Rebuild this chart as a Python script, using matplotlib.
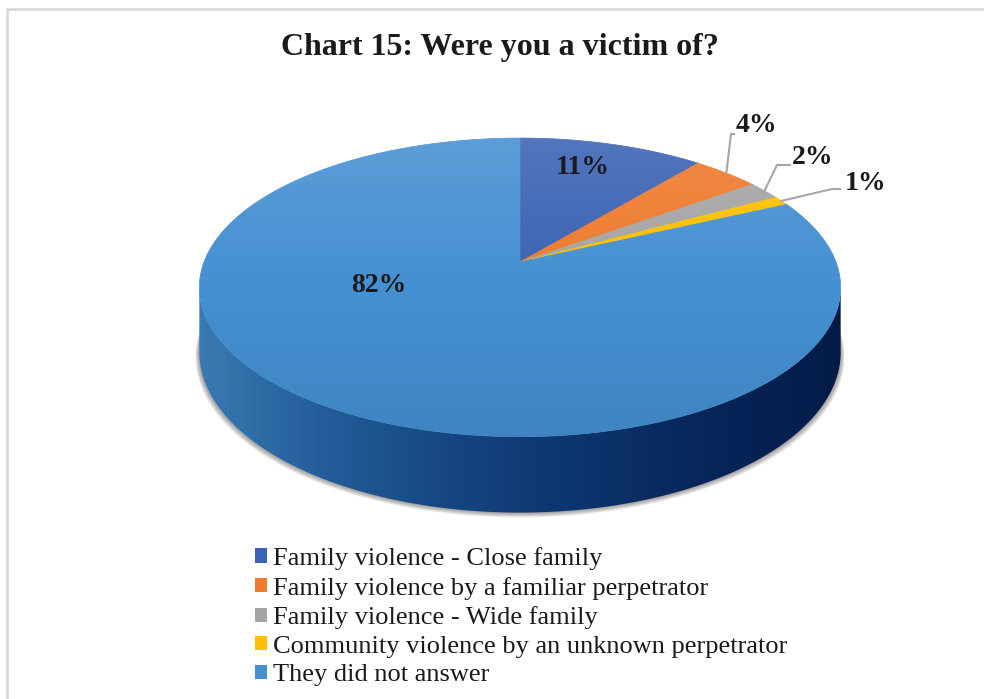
import numpy as np
import matplotlib.pyplot as plt
from matplotlib.patches import Polygon, Patch
from matplotlib.colors import to_rgb

categories = ["Family violence - Close family",
              "Family violence by a familiar perpetrator",
              "Family violence - Wide family",
              "Community violence by an unknown perpetrator",
              "They did not answer"]
values = [11, 4, 2, 1, 82]
colors = ["#3b63b4", "#ee7b2e", "#a5a5a5", "#ffc000", "#4590d2"]
labels = ["11%", "4%", "2%", "1%", "82%"]

# pie geometry in pixels (perspective disk)
CX, CY = 520, 262
A, B, K = 316.0, 145.0, 0.17
H = 63.0

plt.rcParams["font.family"] = ["Liberation Serif", "DejaVu Serif"]

fig = plt.figure(figsize=(9.84, 6.99), dpi=100)
ax = fig.add_axes([0, 0, 1, 1])
ax.axis("off")


def project(u, v, drop=0.0):
    s = 1.0 / (1.0 - K * v)
    return CX + A * u * s, CY + (B * v + H * drop) * s


def rim(theta, drop=0.0, r=1.0):
    return project(r * np.sin(theta), -r * np.cos(theta), drop)


def side_shade(c, t):
    c = np.array(to_rgb(c))
    return np.clip(0.85 * (1 - 0.45 * t) * c ** (1 + 1.6 * t), 0, 1)


total = float(sum(values))
bounds = np.concatenate([[0], np.cumsum(values)]) / total * 2 * np.pi

# frame
ax.plot([6.5, 6.5, 984], [699, 8.5, 8.5], color="#d9d9d9", lw=2, zorder=0)

# soft shadow under the disk
tt = np.linspace(0, 2 * np.pi, 300)
bx, by = rim(tt, drop=1.0)
for d in range(1, 7):
    sx = CX + (bx - CX) * (1 + d * 0.002)
    ax.fill(sx, by + d * 0.8, color="#3a3530", alpha=0.09, lw=0, zorder=1)

# visible side wall, shaded left to right
th_a = np.arccos(-K)
th_b = 2 * np.pi - th_a
xl, _ = rim(th_b)
xr, _ = rim(th_a)
tcol = np.linspace(0, 1, 256)
for i in range(len(values)):
    lo = max(bounds[i], th_a)
    hi = min(bounds[i + 1], th_b)
    if hi <= lo:
        continue
    ts = np.linspace(lo, hi, 300)
    ux, uy = rim(ts)
    dx, dy = rim(ts[::-1], 1.0)
    wall = Polygon(list(zip(np.r_[ux, dx], np.r_[uy, dy])), closed=True,
                   fc="none", ec="none", transform=ax.transData)
    ax.add_patch(wall)
    shade = np.array([side_shade(colors[i], t) for t in tcol])[None, :, :]
    im = ax.imshow(shade, extent=(xl, xr, dy.max() + 1, uy.min() - 1),
                   aspect="auto", origin="upper", zorder=2,
                   interpolation="bilinear")
    im.set_clip_path(wall)

# top face wedges
for i in range(len(values)):
    ts = np.linspace(bounds[i], bounds[i + 1], 200)
    px, py = rim(ts)
    pts = [(CX, CY)] + list(zip(px, py))
    ax.add_patch(Polygon(pts, closed=True, fc=colors[i], ec=colors[i],
                         lw=0.5, zorder=3))

# light gradient over the top face
tx, ty = rim(tt)
clip = Polygon(list(zip(tx, ty)), closed=True, transform=ax.transData)
grad = np.zeros((100, 1, 4))
g = np.linspace(0, 1, 100)
grad[:, 0, :3] = np.where(g[:, None] < 0.5, 1.0, 0.0)
grad[:, 0, 3] = np.where(g < 0.5, 0.12 * (0.5 - g) * 2, 0.08 * (g - 0.5) * 2)
im = ax.imshow(grad, extent=(tx.min(), tx.max(), ty.max(), ty.min()),
               aspect="auto", origin="upper", zorder=4, interpolation="bilinear")
im.set_clip_path(clip)

ax.set_xlim(0, 984)
ax.set_ylim(699, 0)

# data labels
lab_kw = dict(fontsize=20, fontweight="bold", color="#1a1a1a", zorder=6)
ax.text(583, 168, labels[0], ha="center", va="center", **lab_kw)
ax.text(379, 286, labels[4], ha="center", va="center", **lab_kw)

# outside labels with leader lines
leader_bend = {1: (731, 134, 734), 2: (777, 165, 790), 3: (832, 189, 840)}
text_pos = {1: (736, 125), 2: (792, 157), 3: (845, 183)}
for i, (bxp, byp, ex) in leader_bend.items():
    mid = (bounds[i] + bounds[i + 1]) / 2
    sx, sy = rim(mid)
    ax.plot([sx, bxp, ex], [sy, byp, byp], color="#a6a6a6", lw=1.5, zorder=5)
    ax.text(text_pos[i][0], text_pos[i][1], labels[i], ha="left", va="center",
            **lab_kw)

ax.text(500, 48, "Chart 15: Were you a victim of?", ha="center", va="center",
        fontsize=23, fontweight="bold", color="#1a1a1a")

handles = [Patch(fc=c, ec="none") for c in colors]
leg = fig.legend(handles, categories, loc="upper left",
                 bbox_to_anchor=(255 / 984, 1 - 547 / 699), frameon=False,
                 fontsize=19, handlelength=0.45, handleheight=0.45,
                 handletextpad=0.25, labelspacing=0.25, borderaxespad=0,
                 borderpad=0)
for t in leg.get_texts():
    t.set_color("#1a1a1a")

fig.savefig("out.png", dpi=100, facecolor="white")
